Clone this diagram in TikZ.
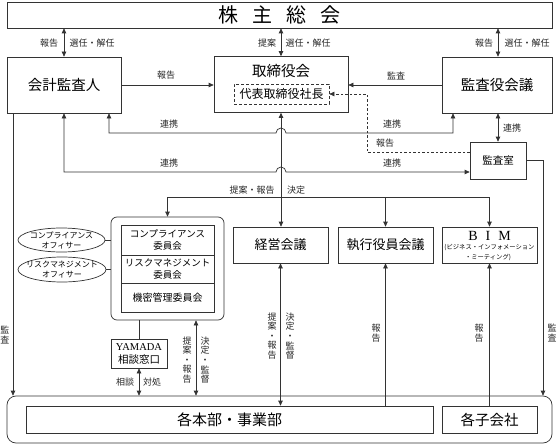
\documentclass[tikz,border=0pt]{standalone}
\usepackage{fontspec}
\setmainfont{Noto Sans CJK JP}
\newfontfamily\lat{Liberation Serif}
\usetikzlibrary{arrows.meta,shapes.geometric,calc}
\tikzset{
 ln/.style={draw=black!80, line width=0.7pt},
 bx/.style={ln, rectangle, inner sep=0pt, align=center},
 lab/.style={inner sep=0pt, font=\fontsize{9}{9.6}\selectfont, text=black!85, align=center},
 txt/.style={inner sep=0pt, align=center},
 arr/.style={ln, -{Triangle[length=5pt,width=4.5pt]}},
 dbl/.style={ln, {Triangle[length=5pt,width=4.5pt]}-{Triangle[length=5pt,width=4.5pt]}},
 dsh/.style={arr, dash pattern=on 2.5pt off 2pt},
}
\begin{document}
\begin{tikzpicture}[x=1pt,y=-1pt]
\useasboundingbox (0,0) rectangle (557,444);

% ---------- boxes ----------
\node[bx, minimum width=545pt, minimum height=26pt, font=\fontsize{20}{20}\selectfont] (gm) at (279.5,15) {株\hspace{14pt}主\hspace{14pt}総\hspace{14pt}会};
\node[bx, minimum width=114pt, minimum height=56pt, font=\fontsize{14.5}{15}\selectfont] (kaikei) at (64,85) {会計監査人};
\node[bx, minimum width=134pt, minimum height=56pt] (tori) at (281,84.5) {};
\node[txt, font=\fontsize{14.5}{15}\selectfont] (toriT) at (281,71) {取締役会};
\node[bx, dash pattern=on 3pt off 2pt, minimum width=95pt, minimum height=20pt, font=\fontsize{12}{12}\selectfont] (daihyo) at (281.5,94) {代表取締役社長};
\node[bx, minimum width=110pt, minimum height=56pt, font=\fontsize{14.5}{15}\selectfont] (kansayaku) at (497,85) {監査役会議};
\node[bx, minimum width=56pt, minimum height=37pt, font=\fontsize{10.5}{12}\selectfont] (kansashitsu) at (498,160.5) {監査室};

\node[bx, rounded corners=6pt, minimum width=113pt, minimum height=103pt] (comp) at (167.5,268.5) {};
\node[bx, minimum width=93pt, minimum height=30pt, font=\fontsize{9.5}{12}\selectfont] (c1) at (167.5,240) {コンプライアンス\\委員会};
\node[bx, minimum width=93pt, minimum height=28pt, font=\fontsize{9.5}{11.5}\selectfont] (c2) at (167.5,269) {リスクマネジメント\\委員会};
\node[bx, minimum width=93pt, minimum height=29pt, font=\fontsize{10}{12}\selectfont] (c3) at (167.5,297.5) {機密管理委員会};

\node[ln, ellipse, inner sep=0pt, minimum width=87pt, minimum height=24pt] (e1) at (61.5,240) {};
\node[txt, font=\fontsize{8}{10}\selectfont] (e1T) at (e1) {コンプライアンス\\オフィサー};
\node[ln, ellipse, inner sep=0pt, minimum width=88pt, minimum height=25pt] (e2) at (62,269.5) {};
\node[txt, font=\fontsize{8}{10}\selectfont] (e2T) at (e2) {リスクマネジメント\\オフィサー};

\node[bx, minimum width=95pt, minimum height=36pt, font=\fontsize{13}{13}\selectfont] (keiei) at (280.5,245) {経営会議};
\node[bx, minimum width=95pt, minimum height=36pt, font=\fontsize{13}{13}\selectfont] (shikko) at (385.5,245) {執行役員会議};
\node[bx, minimum width=95pt, minimum height=36pt] (bim) at (489.5,245) {};
\node[txt, font=\lat\fontsize{14}{14}\selectfont] (bimT1) at (489.5,236) {B\hspace{8pt}I\hspace{8pt}M};
\node[txt, font=\fontsize{6.3}{7}\selectfont] (bimT2) at (489.5,248) {(ビジネス・インフォメーション};
\node[txt, font=\fontsize{6.3}{7}\selectfont] (bimT3) at (488,257) {・ミーティング)};

\node[bx, minimum width=56pt, minimum height=29pt, font=\fontsize{10.5}{13}\selectfont] (yamada) at (139,353.5) {{\lat YAMADA}\\相談窓口};

\node[bx, rounded corners=9pt, minimum width=545pt, minimum height=47pt] (outer) at (279.5,419.5) {};
\node[bx, minimum width=407pt, minimum height=27pt, font=\fontsize{15}{15}\selectfont] (honbu) at (229.5,419.5) {各本部・事業部};
\node[bx, minimum width=95pt, minimum height=27pt, font=\fontsize{14.5}{15}\selectfont] (kogaisha) at (489.5,419.5) {各子会社};

% ---------- helper coordinates ----------
\coordinate (r1a) at (453,133);
\coordinate (r1b) at (109,133);
\coordinate (r2) at (64,172);
\coordinate (d1) at (367,152);
\coordinate (h) at (0,197);
\coordinate (v0) at (13,0);
\coordinate (v1) at (196,0);
\coordinate (v9) at (543,0);

% ---------- connectors ----------
\draw[dbl] (kaikei.north |- gm.south) -- (kaikei.north);
\draw[dbl] (tori.north |- gm.south) -- (tori.north);
\draw[dbl] (kansashitsu.north |- gm.south) -- (kansashitsu.north |- kansayaku.north);

\draw[arr] (kaikei.east) -- (kaikei.east -| tori.west);
\draw[arr] (kansayaku.west) -- (kansayaku.west -| tori.east);
\draw[dsh] (kansashitsu.west |- d1) -- (d1) -- (d1 |- daihyo.east) -- (daihyo.east);

\draw[dbl] (r1a |- kansayaku.south) -- (r1a) -- ([xshift=5pt]tori.south |- r1a) arc[start angle=0,end angle=180,radius=5pt] -- (r1b) -- (r1b |- kaikei.south);
\draw[dbl] (kaikei.south) -- (kaikei.south |- r2) -- ([xshift=-5pt]tori.south |- r2) arc[start angle=180,end angle=0,radius=5pt] -- (kansashitsu.west |- r2);
\draw[dbl] (kansashitsu.north |- kansayaku.south) -- (kansashitsu.north);

\draw[dbl] (tori.south) -- (tori.south |- keiei.north);
\draw[ln] (comp.north |- h) -- (bim.north |- h);
\draw[arr] (comp.north |- h) -- (comp.north);
\draw[arr] (shikko.north |- h) -- (shikko.north);
\draw[arr] (bim.north |- h) -- (bim.north);

\draw[ln] (e1.east) -- (e1.east -| comp.west);
\draw[ln] (e2.east) -- (e2.east -| comp.west);

\draw[ln] (yamada.north) -- (yamada.north |- comp.south);
\draw[dbl] (comp.south -| v1) -- (outer.north -| v1);
\draw[dbl] (yamada.south) -- (yamada.south |- outer.north);
\draw[arr] (kaikei.south -| v0) -- (outer.north -| v0);

\draw[dbl] (keiei.south) -- (keiei.south |- honbu.north);
\draw[arr] (shikko.south |- honbu.north) -- (shikko.south);
\draw[arr] (bim.south |- kogaisha.north) -- (bim.south);
\draw[arr] (kansashitsu.east) -- (kansashitsu.east -| v9) -- (v9 |- outer.north);

% ---------- labels ----------
\node[lab] (l1) at (49,43) {報告};
\node[lab] (l2) at (92,43) {選任・解任};
\node[lab] (l3) at (267,43) {提案};
\node[lab] (l4) at (308,43) {選任・解任};
\node[lab] (l5) at (484,43) {報告};
\node[lab] (l6) at (527,43) {選任・解任};
\node[lab] (l7) at (166,75) {報告};
\node[lab] (l8) at (396,76) {監査};
\node[lab] (l9) at (385,143) {報告};
\node[lab] (l10) at (169,124) {連携};
\node[lab] (l11) at (392,124) {連携};
\node[lab] (l12) at (169,163) {連携};
\node[lab] (l13) at (392,163) {連携};
\node[lab] (l14) at (512,128) {連携};
\node[lab] (l15) at (252,190) {提案・報告};
\node[lab] (l16) at (296,190) {決定};
\node[lab] (l17) at (272,336) {提\\案\\・\\報\\告};
\node[lab] (l18) at (290,336) {決\\定\\・\\監\\督};
\node[lab] (l19) at (187,360) {提\\案\\・\\報\\告};
\node[lab] (l20) at (205,360) {決\\定\\・\\監\\督};
\node[lab] (l21) at (376,333) {報\\告};
\node[lab] (l22) at (479,333) {報\\告};
\node[lab] (l23) at (552,333) {監\\査};
\node[lab] (l24) at (5,335) {監\\査};
\node[lab] (l25) at (125,382) {相談};
\node[lab] (l26) at (152,382) {対処};
\end{tikzpicture}
\end{document}
